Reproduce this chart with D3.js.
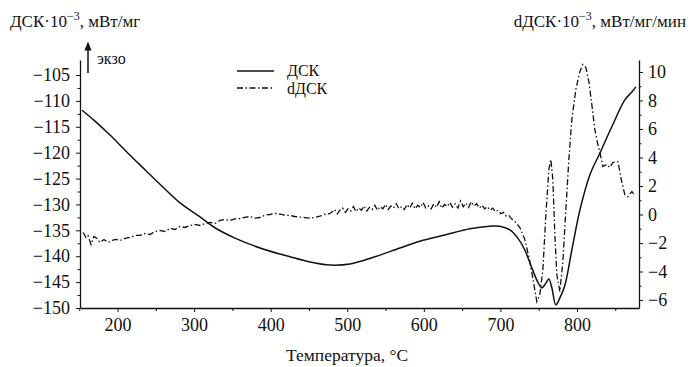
<!DOCTYPE html>
<html><head><meta charset="utf-8">
<script src="https://cdn.jsdelivr.net/npm/d3@7"></script>
<style>body{margin:0;background:#fff}svg{display:block}svg text{font-family:"Liberation Serif","Times New Roman","DejaVu Serif",serif !important;fill:#111}</style>
</head><body>
<svg id="c" width="690" height="367"></svg>
<script>
// Temperature (°C) samples of the DSC curve
const dscT = [153.6,170.6,190.2,213.7,235.9,255.4,281.6,307.7,327.2,353.4,386.0,425.2,451.3,477.4,503.5,536.1,568.8,594.9,627.5,660.1,686.3,699.3,712.4,722.8,731.9,741.1,748.9,754.1,759.4,763.3,767.2,772.4,777.6,784.2,793.3,803.8,816.8,829.9,845.5,862.5,871.7,876.9];
const dscV = [-111.8,-113.9,-116.6,-120.1,-123.3,-126.1,-129.7,-132.4,-134.5,-136.5,-138.4,-140.1,-141.1,-141.7,-141.5,-140.1,-138.4,-137.1,-135.9,-134.7,-134.2,-134.2,-134.9,-136.5,-138.8,-142.3,-145.0,-146.1,-145.2,-144.4,-146.1,-149.4,-148.1,-145.6,-138.8,-131.1,-124.3,-120.1,-115.0,-109.8,-108.3,-107.3];
// dDSC curve
const ddscT = [154.9,158.8,161.4,165.4,169.3,173.2,177.1,182.3,187.6,192.8,198.0,203.2,209.7,216.3,222.8,229.3,235.9,242.4,248.9,255.4,262.0,268.5,275.0,281.6,288.1,294.6,301.1,307.7,314.2,320.7,327.2,333.8,340.3,346.8,353.4,359.9,366.4,372.9,379.5,386.0,392.5,399.0,405.6,412.1,418.6,425.2,431.7,438.2,444.8,451.3,457.8,464.3,470.9,477.4,
  483.5,487,490.5,494,497.5,501,504.5,508,511.5,515,518.5,522,525.5,529,532.5,536,539.5,543,546.5,550,553.5,557,560.5,564,567.5,571,574.5,578,581.5,585,588.5,592,595.5,599,602.5,606,609.5,613,616.5,620,623.5,627,630.5,634,637.5,641,644.5,648,651.5,655,658.5,662,665.5,669,672.5,676,679.5,683,686.5,690,693.5,697,700.5,704,707.5,711,714.5,
  718.9,725.4,731.9,738.5,743.7,747.6,751.5,755.5,759.4,763.3,765.9,768.5,771.1,773.7,777.6,781.6,785.5,789.4,793.3,798.5,803.8,807.7,811.6,815.5,819.4,823.3,827.3,829.9,833.8,839.0,842.9,846.8,853.4,858.6,862.5,866.4,871.7,875.6];
const ddscV = [-1.26,-1.61,-1.47,-2.11,-1.54,-1.68,-1.96,-1.75,-1.96,-1.82,-1.75,-1.82,-1.68,-1.61,-1.47,-1.47,-1.33,-1.40,-1.19,-1.12,-1.19,-0.98,-1.05,-0.84,-0.91,-0.77,-0.70,-0.77,-0.63,-0.56,-0.63,-0.42,-0.35,-0.42,-0.30,-0.28,-0.20,-0.14,-0.25,-0.21,-0.05,0,0.08,0.02,-0.04,-0.07,-0.14,-0.18,-0.22,-0.26,-0.20,-0.12,0.02,0.07,
  0.35,0.05,0.30,0.45,0.15,0.40,0.25,0.55,0.20,0.45,0.30,0.60,0.25,0.50,0.35,0.65,0.30,0.55,0.40,0.70,0.35,0.60,0.45,0.75,0.40,0.55,0.35,0.70,0.45,0.80,0.40,0.65,0.50,0.85,0.45,0.60,0.40,0.75,0.50,0.90,0.45,0.70,0.55,0.85,0.50,0.75,0.45,0.95,0.55,0.80,0.50,0.90,0.60,0.75,0.45,0.65,0.40,0.55,0.30,0.45,0.20,0.30,0.05,0.15,-0.10,-0.05,-0.30,
  -0.49,-0.91,-1.75,-3.30,-4.91,-6.11,-5.61,-3.86,0,3.16,3.86,2.46,-1.40,-4.21,-5.40,-3.30,0.35,3.86,6.67,8.77,10.04,10.53,10.32,9.33,7.72,5.96,4.91,4.35,3.37,3.51,3.30,3.65,3.72,2.25,1.40,1.26,1.61,1.33];
const xTicks = [200,300,400,500,600,700,800];
const leftTicks = [-150,-145,-140,-135,-130,-125,-120,-115,-110,-105];
const rightTicks = [-6,-4,-2,0,2,4,6,8,10];

const svg = d3.select("#c");
const L = 80, R = 639, T = 60, B = 308;
const x = d3.scaleLinear().domain([151, 881]).range([L, R]);
const yL = d3.scaleLinear().domain([-150, -102.1]).range([B, T]);
const yR = d3.scaleLinear().domain([-6.56, 10.84]).range([B, T]);
const fs = "18px";
const SERIF = "'Liberation Serif','Times New Roman','DejaVu Serif',serif";

// axes
svg.append("g").attr("transform", `translate(0,${B})`)
  .call(d3.axisBottom(x).tickValues(xTicks).tickSize(4).tickPadding(6).tickSizeOuter(0));
svg.append("g").attr("transform", `translate(0,${B})`)
  .call(d3.axisBottom(x).tickValues(d3.range(150, 881, 50).filter(v=>v%100!==0)).tickSize(3).tickFormat("").tickSizeOuter(0))
  .select(".domain").remove();
svg.append("g").attr("transform", `translate(${L},0)`)
  .call(d3.axisLeft(yL).tickValues(leftTicks).tickSize(4).tickPadding(6).tickSizeOuter(0));
svg.append("g").attr("transform", `translate(${L},0)`)
  .call(d3.axisLeft(yL).tickValues(d3.range(-147.5, -103, 5)).tickSize(2.5).tickFormat("").tickSizeOuter(0))
  .select(".domain").remove();
svg.append("g").attr("transform", `translate(${R},0)`)
  .call(d3.axisRight(yR).tickValues(rightTicks).tickSize(4).tickPadding(5).tickSizeOuter(0));
svg.append("g").attr("transform", `translate(${R},0)`)
  .call(d3.axisRight(yR).tickValues([-5,-3,-1,1,3,5,7,9]).tickSize(2.5).tickFormat("").tickSizeOuter(0))
  .select(".domain").remove();
svg.selectAll("g").attr("font-family", SERIF);
svg.selectAll(".tick text").attr("font-size", fs).style("font-family", SERIF);
svg.selectAll(".domain").attr("stroke", "#111").attr("stroke-width", 1.3);
svg.selectAll(".tick line").attr("stroke", "#111");

// curves
const dsc = dscT.map((t,i)=>[t, dscV[i]]);
const ddsc = ddscT.map((t,i)=>[t, ddscV[i]]);
svg.append("path").datum(ddsc)
  .attr("d", d3.line().x(d=>x(d[0])).y(d=>yR(d[1])).curve(d3.curveLinear))
  .attr("fill","none").attr("stroke","#111").attr("stroke-width",1.3).attr("stroke-dasharray","6,2.5,1.5,2.5");
svg.append("path").datum(dsc)
  .attr("d", d3.line().x(d=>x(d[0])).y(d=>yL(d[1])).curve(d3.curveCatmullRom))
  .attr("fill","none").attr("stroke","#111").attr("stroke-width",1.5);

// titles
const t1 = svg.append("text").attr("x",10).attr("y",27).attr("font-size","17px").style("font-family", SERIF);
t1.append("tspan").text("ДСК·10");
t1.append("tspan").attr("dy",-7).attr("font-size","12px").text("−3");
t1.append("tspan").attr("dy",7).text(", мВт/мг");
const t2 = svg.append("text").attr("x",686).attr("y",27).attr("font-size","17px").attr("text-anchor","end").style("font-family", SERIF);
t2.append("tspan").text("dДСК·10");
t2.append("tspan").attr("dy",-7).attr("font-size","12px").text("−3");
t2.append("tspan").attr("dy",7).text(", мВт/мг/мин");
svg.append("text").attr("x",347).attr("y",361).attr("font-size","17.5px").attr("text-anchor","middle").style("font-family", SERIF).text("Температура, °C");

// exo arrow
svg.append("defs").append("marker").attr("id","ah").attr("viewBox","0 0 10 10").attr("refX",5).attr("refY",5)
  .attr("markerWidth",6).attr("markerHeight",8).attr("orient","auto")
  .append("path").attr("d","M0,1 L10,5 L0,9 Z").attr("fill","#111");
svg.append("line").attr("x1",88).attr("y1",73).attr("x2",88).attr("y2",46).attr("stroke","#111").attr("stroke-width",1.5).attr("marker-end","url(#ah)");
svg.append("text").attr("x",97).attr("y",64).attr("font-size","16px").style("font-family", SERIF).text("экзо");

// legend
svg.append("line").attr("x1",237).attr("x2",274).attr("y1",71).attr("y2",71).attr("stroke","#111").attr("stroke-width",1.5);
svg.append("text").attr("x",287).attr("y",76).attr("font-size","16px").style("font-family", SERIF).text("ДСК");
svg.append("line").attr("x1",237).attr("x2",274).attr("y1",88).attr("y2",88).attr("stroke","#111").attr("stroke-width",1.3).attr("stroke-dasharray","6,2.5,1.5,2.5");
svg.append("text").attr("x",287).attr("y",94).attr("font-size","16px").style("font-family", SERIF).text("dДСК");
</script>
</body></html>
